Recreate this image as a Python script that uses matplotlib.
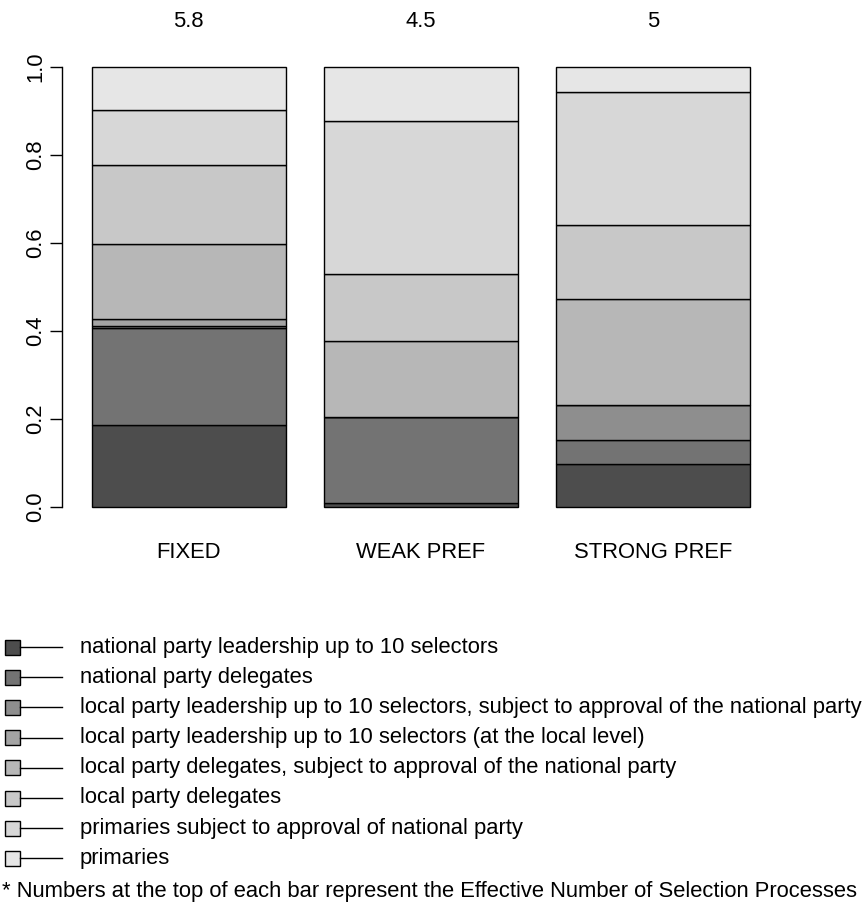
import matplotlib
matplotlib.use("Agg")
import matplotlib.pyplot as plt
from matplotlib.patches import Rectangle
import numpy as np

plt.rcParams['font.family'] = ['Liberation Sans', 'DejaVu Sans']

# bar groups and the number printed above each bar
groups = ["FIXED", "WEAK PREF", "STRONG PREF"]
enps = ["5.8", "4.5", "5"]

# selection processes, bottom to top of each stacked bar
categories = [
    "national party leadership up to 10 selectors",
    "national party delegates",
    "local party leadership up to 10 selectors, subject to approval of the national party",
    "local party leadership up to 10 selectors (at the local level)",
    "local party delegates, subject to approval of the national party",
    "local party delegates",
    "primaries subject to approval of national party",
    "primaries",
]

# shares per group (rows follow categories)
fixed = [0.186, 0.221, 0.004, 0.016, 0.170, 0.180, 0.126, 0.097]
weak_pref = [0.010, 0.195, 0.000, 0.000, 0.173, 0.152, 0.347, 0.123]
strong_pref = [0.097, 0.055, 0.080, 0.000, 0.241, 0.168, 0.302, 0.057]

greys = ["#4d4d4d", "#737373", "#8e8e8e", "#a4a4a4",
         "#b7b7b7", "#c8c8c8", "#d7d7d7", "#e6e6e6"]

W, H = 866, 915
fig = plt.figure(figsize=(W / 100, H / 100), dpi=100)
FS = 15.8

# plot region in pixels
px_left, px_right = 62, 814
px_top, px_bottom = 49.4, 524.6
ax = fig.add_axes([px_left / W, 1 - px_bottom / H,
                   (px_right - px_left) / W, (px_bottom - px_top) / H])

unit = 193.5
x0 = 0.2 - (92 - px_left) / unit
ax.set_xlim(x0, x0 + (px_right - px_left) / unit)
ax.set_ylim(-0.04, 1.04)

data = np.array([fixed, weak_pref, strong_pref]).T
centers = 0.7 + 1.2 * np.arange(len(groups))
bottom = np.zeros(len(groups))
for vals, col in zip(data, greys):
    ax.bar(centers, vals, width=1.0, bottom=bottom, color=col,
           edgecolor="black", linewidth=1.0)
    bottom += vals

for c, t in zip(centers, enps):
    ax.text(c, 1.0 + 0.04 + 27.5 / 440, t, ha="center", va="center", fontsize=FS)
for c, g in zip(centers, groups):
    ax.text(c, -28 / 440 - 0.04 + 0.0, g, ha="center", va="center", fontsize=FS)

for s in ["top", "right", "bottom"]:
    ax.spines[s].set_visible(False)
ax.spines["left"].set_bounds(0, 1)
ax.spines["left"].set_linewidth(1.0)
ax.set_xticks([])
ax.set_yticks([0, 0.2, 0.4, 0.6, 0.8, 1.0])
ax.set_yticklabels(["0.0", "0.2", "0.4", "0.6", "0.8", "1.0"])
ax.tick_params(axis="y", length=8.6, width=1.0, pad=3, labelsize=FS,
               labelrotation=90)
for lab in ax.get_yticklabels():
    lab.set_verticalalignment("center")

# legend drawn in pixel space
lax = fig.add_axes([0, 0, 1, 1])
lax.set_xlim(0, W)
lax.set_ylim(H, 0)
lax.axis("off")
for i, (lab, col) in enumerate(zip(categories, greys)):
    y = 647 + i * 30.2
    lax.add_patch(Rectangle((5, y - 7.5), 15, 15, facecolor=col,
                            edgecolor="black", linewidth=1.0))
    lax.plot([20, 62], [y, y], color="black", linewidth=1.0)
    lax.text(80, y, lab, ha="left", va="center", fontsize=FS)

lax.text(2, 891, "* Numbers at the top of each bar represent the Effective Number of Selection Processes",
         ha="left", va="center", fontsize=FS)

fig.savefig("out.png", dpi=100)
